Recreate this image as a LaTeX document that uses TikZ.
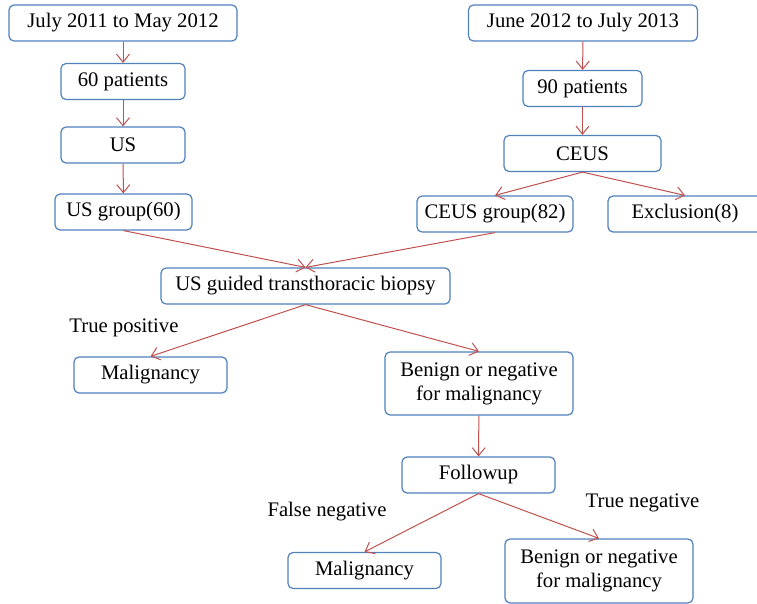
\documentclass[tikz,border=0pt]{standalone}
\usepackage{fontspec}
\setmainfont{Liberation Serif}
\usetikzlibrary{arrows.meta}

\definecolor{boxblue}{RGB}{79,129,189}
\definecolor{arrred}{RGB}{192,80,77}

\begin{document}
\begin{tikzpicture}[x=1pt,y=-1pt]
\tikzstyle{fbox}=[draw=boxblue, rounded corners=5pt, line width=1.2pt,
  minimum height=36pt, inner sep=0pt, align=center, fill=white,
  font=\fontsize{20.7}{24}\selectfont]
\tikzstyle{flab}=[inner sep=0pt, font=\fontsize{20.7}{24}\selectfont]
\useasboundingbox (0,0) rectangle (757,604);
% left branch
\node[fbox, minimum width=228pt] (L1) at (123,23) {July 2011 to May 2012};
\node[fbox, minimum width=124pt] (L2) at (123,81.5) {60 patients};
\node[fbox, minimum width=124pt] (L3) at (123,145) {US};
\node[fbox, minimum width=137pt] (L4) at (123.5,212) {US group(60)};
% right branch
\node[fbox, minimum width=229pt] (R1) at (583,23) {June 2012 to July 2013};
\node[fbox, minimum width=119pt] (R2) at (582.5,88.5) {90 patients};
\node[fbox, minimum width=157pt] (R3) at (582.5,153.5) {CEUS};
\node[fbox, minimum width=156pt] (R4) at (495,214) {CEUS group(82)};
\node[fbox, minimum width=154pt] (EX) at (685,214) {Exclusion(8)};
% biopsy and outcome
\node[fbox, minimum width=289pt] (BIO) at (305.5,286) {US guided transthoracic biopsy};
\node[fbox, minimum width=153pt] (M1) at (150.5,375) {Malignancy};
\node[fbox, minimum width=188pt, minimum height=63pt] (N1) at (479,383.5)
  {Benign or negative\\for malignancy};
\node[fbox, minimum width=153pt] (FU) at (478.5,475) {Followup};
\node[fbox, minimum width=153pt] (M2) at (364.5,570.5) {Malignancy};
\node[fbox, minimum width=188pt, minimum height=64pt] (N2) at (599,571)
  {Benign or negative\\for malignancy};
\node[flab] (TP) at (124,328) {True positive};
\node[flab] (FN) at (327,512) {False negative};
\node[flab] (TN) at (642.5,503) {True negative};
\tikzstyle{farrow}=[-{Straight Barb[length=8pt,width=13pt]}, line width=1pt, arrred]
\draw[farrow] (L1) -- (L2);
\draw[farrow] (L2) -- (L3);
\draw[farrow] (L3) -- (L4);
\draw[farrow] (R1) -- (R2);
\draw[farrow] (R2) -- (R3);
\draw[farrow] (R3.south) -- (R4.north);
\draw[farrow] (R3.south) -- (EX.north);
\draw[farrow] (L4.south) -- (BIO.north);
\draw[farrow] (R4.south) -- (BIO.north);
\draw[farrow] (BIO.south) -- (M1.north);
\draw[farrow] (BIO.south) -- (N1.north);
\draw[farrow] (N1) -- (FU);
\draw[farrow] (FU.south) -- (M2.north);
\draw[farrow] (FU.south) -- (N2.north);
\end{tikzpicture}
\end{document}
